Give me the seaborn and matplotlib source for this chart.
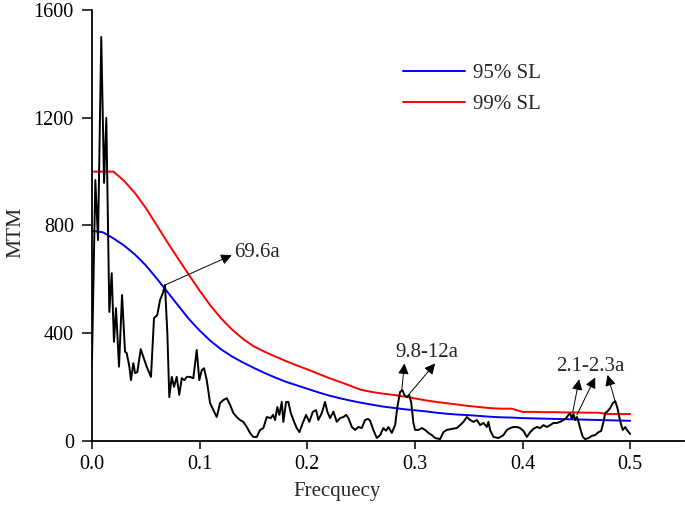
import numpy as np
import pandas as pd
import matplotlib
matplotlib.use("Agg")
import matplotlib.pyplot as plt
import seaborn as sns

# ---- data ----
mtm_freq = [0.0, 0.0031, 0.0056, 0.0086, 0.0112, 0.0133, 0.0161, 0.0183, 0.0204, 0.0223,
            0.0251, 0.0279, 0.0307, 0.0322, 0.0347, 0.0362, 0.0384, 0.0400, 0.0421, 0.0453,
            0.0477, 0.0508, 0.0548, 0.0576, 0.0607, 0.0632, 0.0657, 0.0678, 0.0700, 0.0718,
            0.0741, 0.0762, 0.0787, 0.0811, 0.0834, 0.0858, 0.0880, 0.0911, 0.0941, 0.0973,
            0.0997, 0.1020, 0.1041, 0.1066, 0.1097, 0.1127, 0.1159, 0.1190, 0.1220, 0.1252,
            0.1283, 0.1313, 0.1345, 0.1375, 0.1406, 0.1438, 0.1468, 0.1499, 0.1531, 0.1561,
            0.1592, 0.1624, 0.1661, 0.1682, 0.1701, 0.1722, 0.1741, 0.1763, 0.1778, 0.1803,
            0.1824, 0.1847, 0.1871, 0.1902, 0.1927, 0.1958, 0.1989, 0.2019, 0.2051, 0.2082,
            0.2103, 0.2135, 0.2165, 0.2187, 0.2212, 0.2243, 0.2274, 0.2305, 0.2336, 0.2361,
            0.2382, 0.2414, 0.2444, 0.2475, 0.2506, 0.2537, 0.2565, 0.2584, 0.2614, 0.2646,
            0.2677, 0.2707, 0.2732, 0.2754, 0.2785, 0.2816, 0.2837, 0.2862, 0.2884, 0.2902,
            0.2925, 0.2946, 0.2965, 0.2986, 0.3002, 0.3033, 0.3064, 0.3095, 0.3126, 0.3157,
            0.3188, 0.3234, 0.3265, 0.3296, 0.3343, 0.3389, 0.3420, 0.3451, 0.3482, 0.3513,
            0.3544, 0.3575, 0.3606, 0.3637, 0.3668, 0.3683, 0.3699, 0.3730, 0.3776, 0.3823,
            0.3854, 0.3885, 0.3916, 0.3947, 0.3978, 0.4009, 0.4040, 0.4071, 0.4101, 0.4133,
            0.4164, 0.4194, 0.4226, 0.4257, 0.4287, 0.4319, 0.4350, 0.4380, 0.4405, 0.4427,
            0.4442, 0.4458, 0.4473, 0.4489, 0.4505, 0.4520, 0.4535, 0.4560, 0.4582, 0.4613,
            0.4644, 0.4675, 0.4706, 0.4730, 0.4752, 0.4768, 0.4789, 0.4814, 0.4839, 0.4861,
            0.4882, 0.4901, 0.4917, 0.4932, 0.4954, 0.4970, 0.5000]
mtm_value = [300, 969, 746, 1500, 958, 1200, 479, 623, 368, 493,
             276, 542, 331, 327, 276, 226, 289, 252, 256, 341,
             312, 276, 238, 456, 468, 523, 548, 579, 400, 163,
             238, 201, 238, 171, 233, 226, 238, 238, 233, 338,
             226, 263, 270, 226, 141, 115, 89, 141, 152, 159,
             134, 104, 89, 78, 71, 52, 30, 15, 15, 41,
             48, 89, 85, 97, 78, 126, 97, 145, 71, 145,
             145, 104, 78, 48, 33, 67, 97, 71, 108, 115,
             78, 104, 145, 108, 85, 109, 71, 85, 89, 97,
             85, 52, 41, 52, 48, 78, 82, 75, 41, 11,
             22, 48, 38, 52, 30, 59, 126, 182, 189, 171,
             163, 171, 145, 67, 41, 41, 48, 41, 30, 22,
             11, 7, 33, 41, 45, 48, 59, 71, 89, 78,
             71, 78, 59, 67, 52, 71, 40, 15, 11, 22,
             41, 48, 52, 52, 48, 37, 15, 33, 45, 52,
             48, 59, 52, 59, 67, 67, 71, 78, 85, 97,
             104, 82, 100, 78, 89, 71, 48, 15, 7, 11,
             19, 22, 33, 37, 71, 104, 110, 122, 141, 148,
             122, 85, 59, 41, 52, 41, 26]

sl_freq = [0.00, 0.01, 0.02, 0.03, 0.04, 0.05, 0.06, 0.07, 0.08, 0.09,
           0.10, 0.11, 0.12, 0.13, 0.14, 0.15, 0.16, 0.17, 0.18, 0.19,
           0.20, 0.21, 0.22, 0.23, 0.24, 0.25, 0.26, 0.27, 0.28, 0.29,
           0.30, 0.31, 0.32, 0.33, 0.34, 0.35, 0.36, 0.37, 0.38, 0.39,
           0.40, 0.41, 0.42, 0.43, 0.44, 0.45, 0.46, 0.47, 0.48, 0.49, 0.50]
sl95 = [780, 775, 752, 725, 692, 652, 604, 554, 503, 453,
        410, 372, 340, 314, 292, 272, 253, 236, 220, 207,
        194, 181, 169, 159, 150, 142, 135, 128, 123, 118,
        114, 110, 105, 101, 98, 96, 93, 90, 88, 87,
        85, 84, 83, 82, 81, 80, 79, 78, 77, 76, 75]
sl99 = [1000, 1000, 1000, 965, 920, 865, 802, 738, 677, 617,
        558, 503, 455, 414, 380, 352, 332, 314, 297, 281,
        266, 250, 234, 220, 205, 190, 182, 176, 171, 165,
        158, 151, 145, 140, 135, 130, 126, 122, 120, 120,
        108, 108, 107, 107, 106, 106, 105, 105, 100, 100, 100]

x_ticks = [0.0, 0.1, 0.2, 0.3, 0.4, 0.5]
y_ticks = [0, 400, 800, 1200, 1600]

# ---- styling ----
sns.set_theme(style="ticks")
plt.rcParams["font.family"] = ["Liberation Serif", "DejaVu Serif"]

fig = plt.figure(figsize=(6.85, 5.12), dpi=100)
ax = fig.add_axes([92 / 685, 71 / 512, 592 / 685, 431 / 512])

df_sl = pd.DataFrame({"f": sl_freq, "s95": sl95, "s99": sl99})
df_m = pd.DataFrame({"f": mtm_freq, "v": mtm_value})

sns.lineplot(data=df_sl, x="f", y="s95", color="#0000ff", lw=1.4, ax=ax,
             label="95% SL", estimator=None)
sns.lineplot(data=df_sl, x="f", y="s99", color="#ff0000", lw=1.4, ax=ax,
             label="99% SL", estimator=None)
sns.lineplot(data=df_m, x="f", y="v", color="black", lw=1.4, ax=ax,
             estimator=None, legend=False)

ax.set_xlim(0, 0.55)
ax.set_ylim(0, 1600)
ax.set_xticks(x_ticks)
ax.set_xticklabels([f"{t:.1f}" for t in x_ticks])
ax.set_yticks(y_ticks)
ax.tick_params(axis="x", direction="out", length=6, width=1.1,
               labelsize=14.5, colors="black", pad=4)
ax.tick_params(axis="y", direction="out", length=7, width=1.1,
               labelsize=14.5, colors="black", pad=6)
for side in ("top", "right"):
    ax.spines[side].set_visible(False)
for side in ("left", "bottom"):
    ax.spines[side].set_linewidth(1.3)
    ax.spines[side].set_color("black")

ax.set_xlabel("Frecquecy", fontsize=15, x=0.414, labelpad=6)
ax.set_ylabel("MTM", fontsize=15.5, y=0.483, labelpad=6)

leg = ax.legend(loc="center left", bbox_to_anchor=(0.525, 0.8167), frameon=False,
                fontsize=15, handlelength=3.0, handletextpad=0.35,
                labelspacing=0.55, borderpad=0, borderaxespad=0)

arrow_kw = dict(arrowstyle="-|>", color="black", lw=0.7, mutation_scale=16,
                shrinkA=0, shrinkB=0)

def arrow(x0, y0, x1, y1):
    ax.annotate("", xy=(x1, y1), xytext=(x0, y0), arrowprops=arrow_kw)

arrow(0.0678, 579, 0.1298, 690)
ax.text(0.132, 698, "69.6a", fontsize=15, ha="left", va="center")

arrow(0.2878, 189, 0.2903, 288)
arrow(0.2940, 171, 0.3188, 288)
ax.text(0.3109, 327, "9.8-12a", fontsize=15, ha="center", va="center")

arrow(0.4467, 109, 0.4526, 229)
arrow(0.4505, 97, 0.4675, 236)
arrow(0.4861, 146, 0.4790, 245)
ax.text(0.4633, 275, "2.1-2.3a", fontsize=15, ha="center", va="center")

fig.savefig("out.png", dpi=100)
